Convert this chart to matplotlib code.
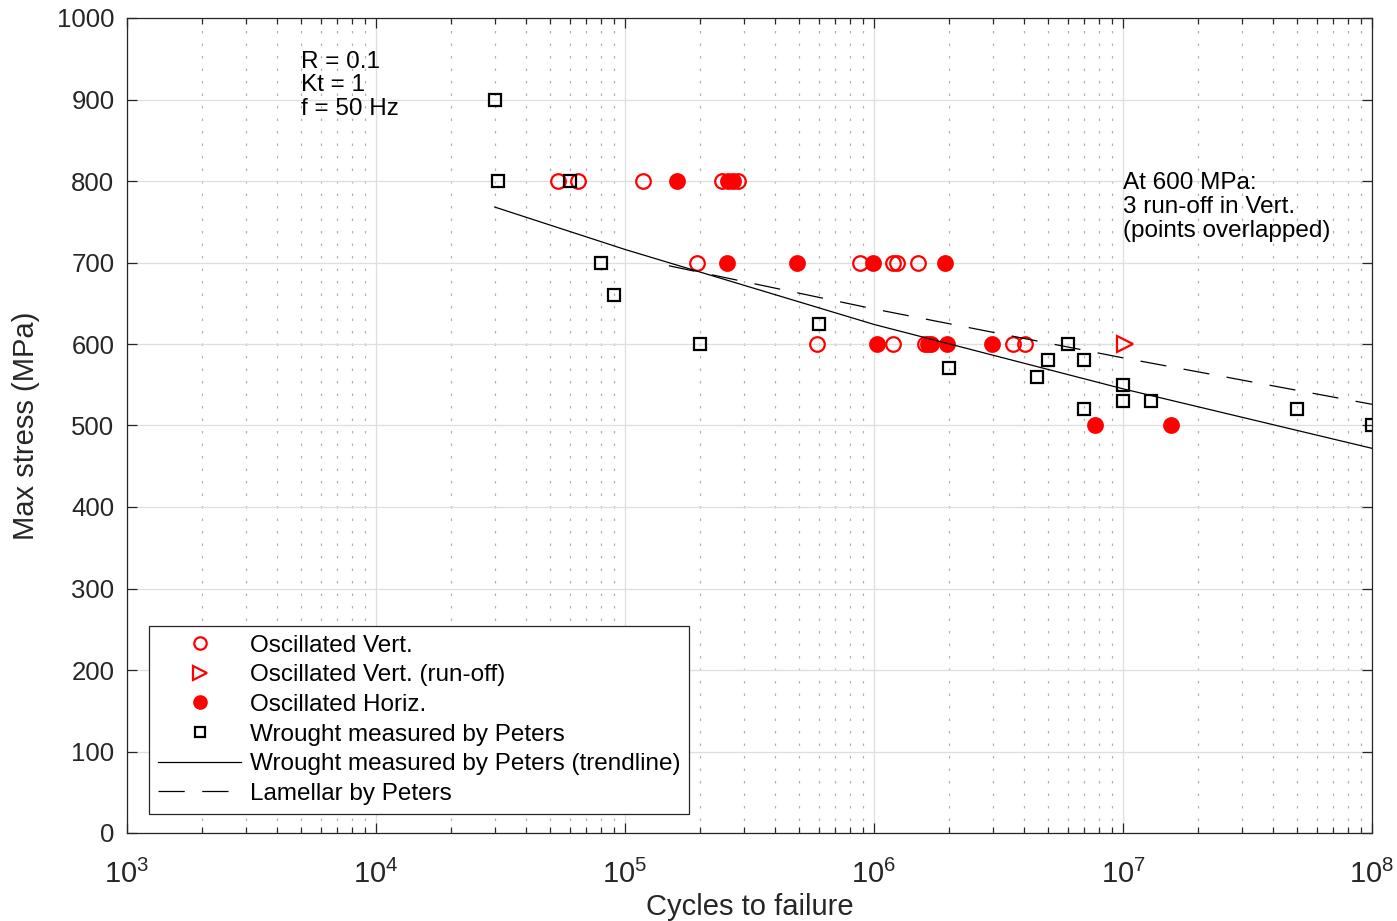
import numpy as np
import matplotlib
matplotlib.use("Agg")
import matplotlib.pyplot as plt
from matplotlib.ticker import LogLocator, NullFormatter, FuncFormatter

plt.rcParams['font.family'] = ['Liberation Sans', 'DejaVu Sans']
plt.rcParams['mathtext.fontset'] = 'custom'
plt.rcParams['mathtext.rm'] = 'Liberation Sans'
plt.rcParams['mathtext.it'] = 'Liberation Sans'

# oscillated, vertical (open circles)
vert_n = [5.4e4, 6.5e4, 1.18e5, 2.45e5, 2.84e5,
          1.95e5, 8.8e5, 1.19e6, 1.24e6, 1.5e6,
          5.9e5, 1.19e6, 1.6e6, 3.6e6, 4.05e6]
vert_s = [800, 800, 800, 800, 800,
          700, 700, 700, 700, 700,
          600, 600, 600, 600, 600]

# oscillated, vertical run-off
runoff_n = [1.02e7]
runoff_s = [600]

# oscillated, horizontal (filled circles)
horiz_n = [1.62e5, 2.6e5, 2.72e5,
           2.57e5, 4.9e5, 9.9e5, 1.93e6,
           1.03e6, 1.65e6, 1.7e6, 1.96e6, 2.98e6,
           7.7e6, 1.56e7]
horiz_s = [800, 800, 800,
           700, 700, 700, 700,
           600, 600, 600, 600, 600,
           500, 500]

# wrought, Peters (squares)
wrought_n = [3.0e4, 3.1e4, 6.0e4, 8.0e4, 9.0e4, 2.0e5, 6.0e5, 2.0e6,
             4.5e6, 5.0e6, 6.0e6, 7.0e6, 7.0e6, 1.0e7, 1.0e7, 1.3e7,
             5.0e7, 1.0e8]
wrought_s = [900, 800, 800, 700, 660, 600, 625, 570,
             560, 580, 600, 580, 520, 550, 530, 530,
             520, 500]

# trendline
trend_n = [3.0e4, 1.0e5, 1.0e6, 1.0e7, 1.0e8]
trend_s = [768, 716, 624, 545, 472]

# lamellar, Peters
lam_n = [1.5e5, 1.0e6, 1.0e7, 1.0e8]
lam_s = [696, 643, 583, 526]

fig = plt.figure(figsize=(13.97, 9.21), dpi=100)
ax = fig.add_axes([127/1397, 1-833/921, 1245/1397, 815/921])

ax.plot(vert_n, vert_s, 'o', mfc='none', mec='r', mew=1.6, ms=10.5,
        ls='none', label='Oscillated Vert.')
ax.plot(runoff_n, runoff_s, '>', mfc='none', mec='r', mew=1.6, ms=12,
        ls='none', label='Oscillated Vert. (run-off)')
ax.plot(horiz_n, horiz_s, 'o', mfc='r', mec='r', mew=1.6, ms=10.5,
        ls='none', label='Oscillated Horiz.')
ax.plot(wrought_n, wrought_s, 's', mfc='none', mec='k', mew=1.6, ms=8.5,
        ls='none', label='Wrought measured by Peters')
ax.plot(trend_n, trend_s, '-', color='k', lw=0.9,
        label='Wrought measured by Peters (trendline)')
ax.plot(lam_n, lam_s, color='k', lw=0.9, ls=(0, (21, 14)),
        label='Lamellar by Peters')

ax.set_xscale('log')
ax.set_xlim(1e3, 1e8)
ax.set_ylim(0, 1000)
ax.set_yticks(np.arange(0, 1001, 100))
ax.xaxis.set_major_locator(LogLocator(base=10, numticks=10))
ax.xaxis.set_major_formatter(FuncFormatter(
    lambda v, p: r'$\mathregular{10^{%d}}$' % round(np.log10(v))))
ax.xaxis.set_minor_locator(LogLocator(base=10, subs=np.arange(2, 10), numticks=20))
ax.xaxis.set_minor_formatter(NullFormatter())

ax.grid(True, which='major', color='#dedede', lw=0.9, ls='-')
ax.grid(True, which='minor', axis='x', color='#b0b0b0', lw=0.9, ls=(0, (2, 8)))
ax.set_axisbelow(True)

for s in ax.spines.values():
    s.set_color('#262626')
    s.set_linewidth(0.9)
ax.tick_params(which='both', direction='in', top=True, right=True,
               color='#262626', labelcolor='#262626')
ax.tick_params(which='major', length=7, width=0.9)
ax.tick_params(which='minor', length=4, width=0.9)
ax.tick_params(axis='y', labelsize=18.5, pad=9)
ax.tick_params(axis='x', labelsize=21, pad=19)

ax.set_xlabel('Cycles to failure', fontsize=21, color='#262626', labelpad=3)
ax.set_ylabel('Max stress (MPa)', fontsize=21, color='#262626', labelpad=12)

ax.text(5000, 960, 'R = 0.1\nKt = 1\nf = 50 Hz', fontsize=17.5,
        va='top', ha='left', linespacing=1.1)
ax.text(1.0e7, 811, 'At 600 MPa:\n3 run-off in Vert.\n(points overlapped)',
        fontsize=17.5, va='top', ha='left', linespacing=1.12)

leg = ax.legend(loc='lower left', bbox_to_anchor=(0.0177, 0.0235),
                borderaxespad=0, fontsize=17.5, fancybox=False,
                edgecolor='#262626', framealpha=1, handlelength=3.4,
                handletextpad=0.36, labelspacing=0.31, borderpad=0.38,
                markerscale=0.85)
leg.get_frame().set_linewidth(0.9)

fig.savefig('out.png', dpi=100)
